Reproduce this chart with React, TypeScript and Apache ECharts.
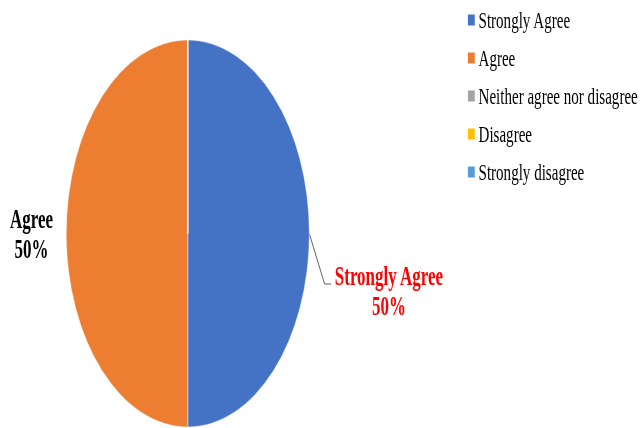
import React, { useEffect, useRef } from 'react';
import * as echarts from 'echarts';

const categories = ['Strongly Agree', 'Agree', 'Neither agree nor disagree', 'Disagree', 'Strongly disagree'];
const values = [50, 50, 0, 0, 0];
const colors = ['#4472C4', '#ED7D31', '#A5A5A5', '#FFC000', '#5B9BD5'];
const labelColors = ['#FF0000', '#000000', '#000000', '#000000', '#000000'];

const SX = 0.628;
const W = 641 / SX;
const H = 428;
const FONT = "'Times New Roman', 'Liberation Serif', serif";

export default function App() {
  const ref = useRef<HTMLDivElement>(null);
  useEffect(() => {
    const chart = echarts.init(ref.current!, null, { renderer: 'svg', width: W, height: H });
    chart.setOption({
      animation: false,
      legend: {
        orient: 'vertical',
        left: 743,
        top: 8,
        padding: 0,
        itemWidth: 13,
        itemHeight: 13,
        itemGap: 14,
        icon: 'rect',
        selectedMode: false,
        data: categories,
        textStyle: { fontFamily: FONT, fontSize: 24, color: '#000' },
      },
      series: [
        {
          type: 'pie',
          center: [299, 233.5],
          radius: 193.5,
          startAngle: 90,
          clockwise: true,
          minShowLabelAngle: 1,
          emphasis: { disabled: true },
          itemStyle: { borderColor: '#ffffff', borderWidth: 0.5 },
          label: {
            show: true,
            formatter: '{b}\n{d}%',
            fontFamily: FONT,
            fontSize: 27,
            fontWeight: 'bold',
            lineHeight: 30,
            overflow: 'none',
          },
          labelLine: { show: true, length: 15, length2: 10, lineStyle: { color: '#404040', width: 1 } },
          labelLayout: (p: any) => {
            const r = p.rect;
            if (p.dataIndex === 0) {
              const x = r.x + r.width + 126.5;
              const y = r.y + r.height / 2 + 57.5;
              const left = x - p.labelRect.width / 2;
              const start = p.labelLinePoints ? p.labelLinePoints[0] : [r.x + r.width, r.y + r.height / 2];
              const end = [left - 5, y - 7];
              const mid = [end[0] - 10.5, end[1]];
              return { x, y, width: 300, align: 'center', verticalAlign: 'middle', labelLinePoints: [start, mid, end] };
            }
            if (p.dataIndex === 1) {
              return { x: r.x - 55, y: r.y + r.height / 2 + 1, width: 200, align: 'center', verticalAlign: 'middle' };
            }
            return {};
          },
          data: categories.map((name, i) => ({
            name,
            value: values[i],
            itemStyle: { color: colors[i] },
            label: { color: labelColors[i] },
            labelLine: { show: i === 0 },
          })),
        },
      ],
    });
    return () => chart.dispose();
  }, []);
  return (
    <div
      ref={ref}
      style={{
        position: 'fixed',
        left: 0,
        top: 0,
        width: W,
        height: H,
        transform: `scaleX(${SX})`,
        transformOrigin: '0 0',
      }}
    />
  );
}
